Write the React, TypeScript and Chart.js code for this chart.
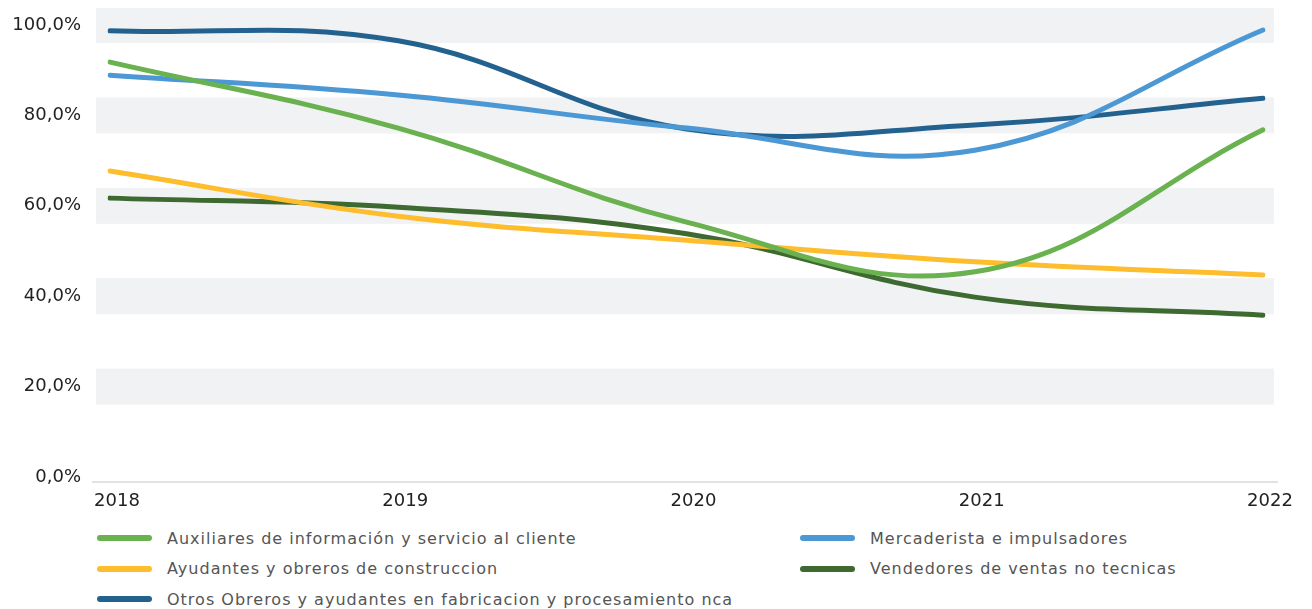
import React, { useEffect, useRef } from "react";
import { Chart, registerables } from "chart.js";

Chart.register(...registerables);

const years = ["2018", "2019", "2020", "2021", "2022"];
const auxiliares = [91.8, 77.2, 56.4, 45.4, 76.8];
const mercaderista = [88.9, 84.5, 77.2, 72.3, 98.9];
const ayudantes = [67.7, 57.7, 52.4, 47.6, 44.7];
const vendedores = [61.7, 59.7, 53.8, 39.8, 35.8];
const otros = [98.7, 96.5, 77.0, 77.9, 83.8];
const yTicks = [0, 20, 40, 60, 80, 100];

const seriesNames = [
  "Auxiliares de información y servicio al cliente",
  "Mercaderista e impulsadores",
  "Ayudantes y obreros de construccion",
  "Vendedores de ventas no tecnicas",
  "Otros Obreros y ayudantes en fabricacion y procesamiento nca",
];
const seriesColors = ["#6ab150", "#4b98d4", "#fdbd2d", "#3e6a31", "#23628f"];
const seriesData = [auxiliares, mercaderista, ayudantes, vendedores, otros];

const bandsPlugin = {
  id: "bands",
  beforeDatasetsDraw(chart: any) {
    const { ctx, chartArea, scales } = chart;
    const y = scales.y;
    ctx.save();
    ctx.fillStyle = "#f1f2f4";
    for (const v of yTicks) {
      if (v === 0) continue;
      const py = y.getPixelForValue(v);
      ctx.fillRect(chartArea.left - 14, py - 18, chartArea.right - chartArea.left + 25, 36);
    }
    ctx.strokeStyle = "#d9d9d9";
    ctx.lineWidth = 1.5;
    ctx.beginPath();
    ctx.moveTo(chartArea.left - 18, chartArea.bottom);
    ctx.lineTo(chartArea.right + 15, chartArea.bottom);
    ctx.stroke();
    ctx.restore();
  },
};

export default function App() {
  const ref = useRef<HTMLCanvasElement | null>(null);

  useEffect(() => {
    if (!ref.current) return;
    const chart = new Chart(ref.current, {
      type: "line",
      data: {
        labels: years,
        datasets: seriesData.map((d, i) => ({
          label: seriesNames[i],
          data: d,
          borderColor: seriesColors[i],
          backgroundColor: seriesColors[i],
          borderWidth: 5,
          borderCapStyle: "round" as const,
          pointRadius: 0,
          pointHoverRadius: 0,
          tension: 0.4,
          fill: false,
        })),
      },
      options: {
        animation: false,
        responsive: false,
        layout: { autoPadding: false, padding: { left: 0, right: 41, top: 0, bottom: 0 } },
        plugins: {
          legend: { display: false },
          tooltip: { enabled: false },
        },
        scales: {
          x: {
            type: "category",
            offset: false,
            grid: { display: false, drawTicks: false },
            border: { display: false },
            ticks: {
              font: { family: "DejaVu Sans", size: 18 },
              color: "#222",
              padding: 9,
              labelOffset: 7,
              maxRotation: 0,
              autoSkip: false,
            },
            afterFit: (s: any) => {
              s.height = 30;
              s.paddingLeft = 0;
              s.paddingRight = 0;
            },
          },
          y: {
            min: -1.1,
            max: 103.76,
            grid: { display: false, drawTicks: false },
            border: { display: false },
            ticks: {
              font: { family: "DejaVu Sans", size: 18 },
              color: "#222",
              padding: 29,
              callback: (v: any) => Number(v).toFixed(1).replace(".", ",") + "%",
            },
            afterBuildTicks: (s: any) => {
              s.ticks = yTicks.map((v) => ({ value: v }));
            },
            afterFit: (s: any) => {
              s.width = 102;
              s.paddingTop = 0;
              s.paddingBottom = 0;
            },
          },
        },
      },
      plugins: [bandsPlugin],
    });
    return () => chart.destroy();
  }, []);

  return (
    <div style={{ width: 1296 }}>
      <canvas ref={ref} width={1296} height={504} style={{ display: "block" }} />
      <div
        style={{
          display: "grid",
          gridTemplateColumns: "703px auto",
          gridAutoRows: "30.5px",
          paddingLeft: 89,
          marginTop: 11,
          fontFamily: "'DejaVu Sans'",
          fontSize: 16,
          letterSpacing: "1px",
          color: "#555",
        }}
      >
        {seriesNames.map((name, i) => (
          <div key={name} style={{ display: "flex", alignItems: "center", whiteSpace: "nowrap" }}>
            <span
              style={{
                width: 55,
                height: 6,
                borderRadius: 3,
                background: seriesColors[i],
                marginRight: 15,
                flex: "none",
              }}
            />
            <span>{name}</span>
          </div>
        ))}
      </div>
    </div>
  );
}
